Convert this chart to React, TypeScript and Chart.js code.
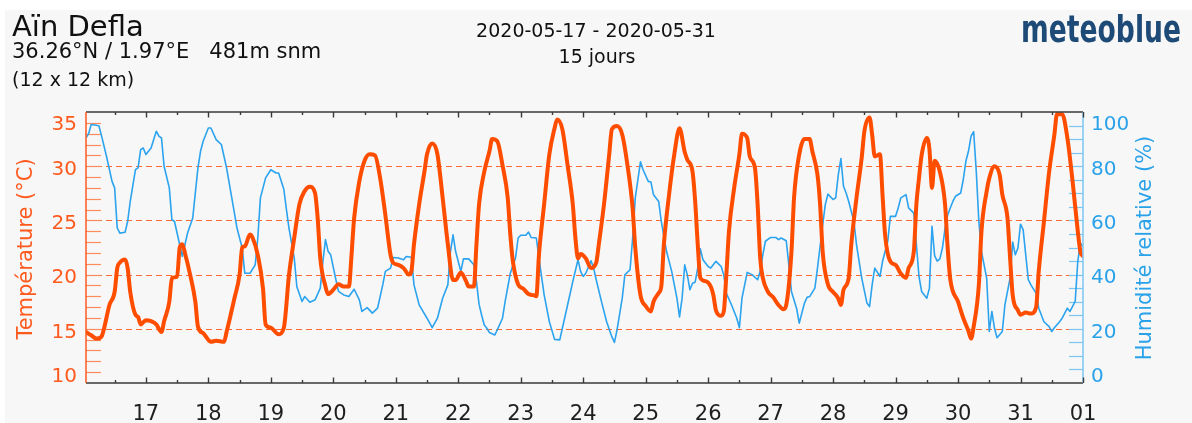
import React, { useEffect, useRef } from 'react';
import { Chart, registerables } from 'chart.js';

Chart.register(...registerables);

// ---- data (hours since 2020-05-16 00:00) ----
const tempHours = [1, 3, 5, 7, 8, 10, 12, 13, 14, 16, 17, 18, 20, 21, 22, 24, 26, 28, 30, 31, 33, 34, 36, 37, 38, 39, 41, 43, 44, 46, 49, 51, 54, 55, 58, 60, 61, 62, 64, 65, 67, 69, 70, 72, 75, 77, 79, 81, 83, 85, 87, 89, 90, 91, 93, 94, 96, 98, 100, 102, 103, 104, 106, 108, 110, 112, 114, 116, 118, 119, 121, 123, 125, 126, 127, 129, 131, 132, 134, 136, 138, 140, 142, 143, 145, 147, 148, 150, 151, 152, 154, 156, 157, 159, 161, 163, 164, 165, 167, 169, 171, 173, 174, 175, 177, 179, 181, 182, 184, 186, 188, 189, 190, 191, 193, 195, 197, 198, 200, 202, 203, 205, 207, 209, 211, 212, 214, 216, 218, 219, 221, 222, 223, 225, 227, 229, 231, 232, 234, 235, 236, 237, 239, 241, 242, 243, 245, 246, 247, 248, 250, 252, 253, 255, 256, 258, 259, 260, 261, 263, 265, 267, 269, 270, 272, 273, 275, 277, 279, 280, 282, 283, 284, 286, 288, 290, 291, 292, 294, 295, 297, 299, 300, 302, 303, 304, 306, 307, 308, 310, 312, 314, 316, 317, 319, 320, 321, 322, 324, 325, 326, 327, 329, 331, 332, 333, 336, 338, 340, 341, 342, 344, 345, 347, 348, 350, 352, 353, 355, 356, 357, 359, 360, 362, 364, 366, 367, 369, 371, 373, 374, 376, 378, 380, 382, 383, 384];
const tempValues = [14.7, 14.4, 14.1, 14.3, 15.1, 17.2, 18.4, 20.6, 21.1, 21.4, 20.6, 18.4, 16.3, 16.1, 15.4, 15.8, 15.7, 15.4, 14.7, 15.7, 17.5, 19.7, 19.8, 22.5, 22.8, 22.0, 20.0, 17.5, 15.2, 14.6, 13.8, 13.9, 13.8, 14.7, 17.8, 20.0, 22.5, 22.6, 23.7, 23.4, 21.8, 18.7, 15.4, 15.1, 14.5, 15.1, 20.0, 23.4, 26.5, 27.7, 28.1, 27.5, 25.2, 21.5, 18.9, 18.2, 18.6, 19.1, 18.9, 18.9, 21.8, 25.2, 28.6, 30.5, 31.1, 31.0, 28.9, 25.5, 21.8, 21.1, 20.9, 20.6, 20.0, 20.3, 22.8, 26.5, 29.5, 31.1, 32.1, 31.1, 27.1, 22.8, 19.5, 19.5, 20.2, 19.4, 18.9, 18.9, 22.8, 26.5, 29.5, 31.4, 32.5, 32.3, 30.1, 27.1, 23.7, 21.2, 19.1, 18.7, 18.2, 18.1, 18.0, 21.8, 26.5, 31.1, 33.5, 34.3, 33.4, 30.1, 26.5, 23.4, 21.5, 21.9, 21.5, 20.6, 21.1, 22.8, 26.5, 31.1, 33.4, 33.7, 32.9, 30.1, 26.1, 22.5, 18.1, 17.1, 16.6, 17.5, 18.3, 18.9, 22.8, 27.4, 31.1, 33.5, 31.3, 30.6, 29.5, 26.8, 22.8, 19.7, 19.4, 18.9, 18.1, 16.7, 16.2, 16.6, 20.0, 24.0, 28.0, 31.1, 33.0, 32.6, 30.9, 29.8, 26.5, 21.5, 19.7, 18.4, 17.9, 17.2, 16.8, 17.2, 22.1, 27.1, 31.1, 32.5, 32.5, 31.4, 29.2, 26.5, 22.1, 19.1, 18.4, 17.8, 17.2, 18.6, 19.7, 22.8, 27.1, 30.8, 33.2, 34.5, 32.9, 30.9, 31.1, 27.3, 23.6, 21.2, 20.9, 20.1, 19.7, 20.6, 22.1, 26.5, 28.9, 31.0, 32.6, 31.6, 28.0, 30.5, 29.5, 26.5, 22.5, 19.6, 17.5, 16.0, 14.8, 14.1, 15.2, 19.1, 24.0, 27.7, 28.9, 30.0, 29.2, 27.4, 25.2, 21.5, 18.1, 16.7, 16.3, 16.5, 16.4, 17.0, 20.3, 24.9, 29.5, 32.9, 34.8, 34.8, 32.6, 28.6, 24.0, 22.1, 21.7];

const humHours = [1, 2, 3, 5, 6, 7, 9, 11, 12, 13, 14, 16, 17, 18, 20, 21, 22, 23, 24, 26, 28, 29, 30, 31, 33, 34, 35, 37, 38, 39, 40, 42, 44, 45, 46, 48, 49, 51, 53, 55, 57, 59, 61, 62, 64, 66, 67, 68, 70, 72, 74, 75, 77, 78, 79, 81, 82, 84, 85, 87, 89, 91, 92, 93, 94, 95, 97, 98, 100, 102, 104, 106, 107, 109, 111, 113, 115, 116, 118, 119, 121, 123, 124, 126, 127, 129, 132, 134, 136, 138, 140, 141, 142, 143, 145, 146, 148, 150, 151, 152, 153, 154, 155, 156, 158, 159, 161, 162, 164, 166, 167, 168, 170, 171, 172, 174, 175, 177, 179, 181, 183, 184, 186, 188, 190, 191, 192, 193, 195, 196, 197, 199, 201, 203, 204, 205, 207, 208, 210, 211, 212, 214, 215, 217, 218, 219, 221, 222, 224, 226, 228, 229, 230, 231, 232, 233, 234, 235, 236, 237, 238, 240, 241, 243, 245, 246, 247, 249, 251, 252, 253, 255, 257, 259, 260, 261, 262, 264, 266, 267, 268, 270, 271, 272, 274, 275, 277, 278, 279, 281, 282, 284, 285, 286, 288, 289, 290, 291, 292, 293, 294, 296, 297, 299, 301, 302, 303, 304, 306, 307, 309, 310, 312, 313, 314, 316, 317, 319, 320, 321, 322, 324, 325, 326, 327, 328, 329, 330, 331, 332, 333, 334, 335, 337, 338, 339, 340, 341, 342, 343, 344, 345, 347, 348, 349, 350, 351, 353, 354, 356, 357, 358, 359, 360, 361, 362, 363, 364, 366, 367, 369, 371, 372, 373, 375, 376, 378, 379, 381, 382, 383, 384];
const humValues = [90.5, 92.0, 95.4, 95.1, 94.8, 91.1, 83.1, 74.4, 72.0, 57.2, 55.3, 55.6, 59.6, 67.0, 78.7, 79.4, 86.1, 86.7, 84.3, 86.7, 92.9, 91.1, 90.4, 80.0, 72.0, 60.3, 59.6, 51.0, 46.7, 51.0, 55.3, 60.9, 79.4, 85.5, 89.2, 94.1, 94.1, 89.8, 88.0, 79.4, 68.3, 57.2, 49.8, 40.5, 40.5, 43.6, 53.5, 68.3, 75.7, 78.7, 77.5, 77.5, 71.5, 64.0, 57.0, 46.1, 35.5, 30.1, 31.9, 29.8, 30.7, 35.0, 44.9, 52.9, 48.6, 47.3, 38.1, 33.8, 32.5, 31.9, 34.6, 30.7, 26.4, 27.8, 25.8, 27.6, 36.2, 41.2, 42.4, 46.3, 46.1, 45.5, 46.7, 46.4, 36.2, 28.8, 23.9, 20.4, 23.9, 31.3, 36.2, 48.5, 54.7, 48.5, 41.2, 45.8, 45.8, 43.6, 37.4, 29.0, 25.0, 21.4, 20.2, 18.6, 17.7, 19.6, 23.9, 30.0, 40.5, 46.1, 53.5, 54.5, 54.5, 55.7, 53.7, 53.5, 46.1, 32.5, 22.6, 16.1, 15.9, 20.2, 28.8, 37.4, 45.5, 41.2, 39.3, 40.5, 45.1, 42.4, 38.1, 30.1, 22.6, 17.1, 15.0, 19.6, 31.3, 39.9, 41.8, 53.5, 68.3, 81.6, 78.7, 74.4, 74.2, 69.5, 67.0, 59.6, 48.6, 41.2, 31.3, 24.4, 31.3, 43.6, 39.9, 34.4, 36.8, 37.2, 42.4, 49.5, 45.5, 43.0, 42.4, 44.9, 43.0, 39.9, 33.1, 28.8, 23.9, 20.4, 31.3, 40.8, 39.9, 38.1, 41.2, 47.3, 52.3, 53.7, 53.7, 52.9, 53.5, 52.5, 43.6, 33.8, 27.4, 22.1, 29.5, 31.6, 31.9, 35.0, 42.4, 58.4, 65.8, 69.7, 67.7, 68.3, 76.9, 82.8, 72.6, 70.1, 67.0, 59.6, 51.0, 38.7, 29.5, 28.2, 36.2, 42.4, 39.3, 44.9, 52.3, 61.5, 61.5, 64.6, 68.3, 69.5, 64.6, 62.7, 51.0, 39.3, 33.8, 31.3, 35.0, 57.8, 47.0, 45.0, 45.8, 49.8, 57.0, 62.0, 64.6, 67.0, 68.9, 70.1, 75.0, 81.8, 85.5, 91.1, 92.7, 78.1, 59.6, 48.5, 38.7, 19.0, 26.4, 20.2, 16.7, 19.0, 28.8, 38.7, 52.0, 47.3, 49.8, 58.6, 56.6, 47.3, 38.1, 36.2, 33.1, 27.6, 22.6, 20.8, 19.0, 20.4, 22.6, 23.9, 27.6, 26.4, 30.1, 44.9, 51.6, 50.4];

// ---- axes ----
const dayTickHours = [24, 48, 72, 96, 120, 144, 168, 192, 216, 240, 264, 288, 312, 336, 360, 384];
const dayLabels = ['17', '18', '19', '20', '21', '22', '23', '24', '25', '26', '27', '28', '29', '30', '31', '01'];
const halfDayTickHours = [12, 36, 60, 84, 108, 132, 156, 180, 204, 228, 252, 276, 300, 324, 348, 372];
const tempTicks = [10, 15, 20, 25, 30, 35];
const tempGridValues = [15, 20, 25, 30];
const tempMinorTicks = [11, 12, 13, 14, 15, 16, 17, 18, 19, 20, 21, 22, 23, 24, 25, 26, 27, 28, 29, 30, 31, 32, 33, 34];
const humTicks = [0, 20, 40, 60, 80, 100];
const humMinorTicks = [5, 10, 15, 20, 25, 30, 35, 40, 45, 50, 55, 60, 65, 70, 75, 80, 85, 90, 95];

const W = 1192;
const H = 423;
const FONT = '"DejaVu Sans", "Noto Sans", sans-serif';
const ORANGE_LINE = '#ff4d00';
const ORANGE_TXT = '#ff5a1e';
const ORANGE_GRID = '#ff6a33';
const ORANGE_TICK = '#ff8a5c';
const BLUE_LINE = '#2ba3ee';
const BLUE_TXT = '#2aa2ea';
const BLUE_TICK = '#7cc6f2';
const FRAME = '#3a3a3a';

function drawText(
  ctx: CanvasRenderingContext2D,
  s: string,
  x: number,
  y: number,
  size: number,
  color: string,
  align: CanvasTextAlign = 'left',
  opts: { bold?: boolean; sx?: number; rot?: number; baseline?: CanvasTextBaseline } = {}
) {
  ctx.save();
  ctx.font = `${opts.bold ? 'bold ' : ''}${size}px ${FONT}`;
  ctx.fillStyle = color;
  ctx.textAlign = align;
  ctx.textBaseline = opts.baseline || 'alphabetic';
  ctx.translate(x, y);
  if (opts.rot) ctx.rotate(opts.rot);
  if (opts.sx) ctx.scale(opts.sx, 1);
  ctx.fillText(s, 0, 0);
  ctx.restore();
}

const decorPlugin = {
  id: 'decor',
  beforeDraw(chart: any) {
    const ctx: CanvasRenderingContext2D = chart.ctx;
    const { left, right } = chart.chartArea;
    const yT = chart.scales.yT;
    const yH = chart.scales.yH;
    ctx.save();
    ctx.fillStyle = '#ffffff';
    ctx.fillRect(0, 0, W, H);
    ctx.fillStyle = '#f7f7f7';
    ctx.fillRect(5, 10, W - 5, H - 10);

    // dashed grid lines
    ctx.strokeStyle = ORANGE_GRID;
    ctx.lineWidth = 1.2;
    ctx.setLineDash([6, 4]);
    tempGridValues.forEach((v) => {
      const y = Math.round(yT.getPixelForValue(v)) + 0.5;
      ctx.beginPath();
      ctx.moveTo(left, y);
      ctx.lineTo(right, y);
      ctx.stroke();
    });
    ctx.setLineDash([]);

    // left minor ticks
    ctx.strokeStyle = ORANGE_TICK;
    ctx.lineWidth = 1.2;
    tempMinorTicks.forEach((v) => {
      const y = Math.round(yT.getPixelForValue(v)) + 0.5;
      ctx.beginPath();
      ctx.moveTo(left, y);
      ctx.lineTo(left + 15, y);
      ctx.stroke();
    });
    // right minor ticks
    ctx.strokeStyle = BLUE_TICK;
    humMinorTicks.forEach((v) => {
      const y = Math.round(yH.getPixelForValue(v)) + 0.5;
      ctx.beginPath();
      ctx.moveTo(right - 14, y);
      ctx.lineTo(right, y);
      ctx.stroke();
    });
    ctx.restore();
  },
  afterDatasetsDraw(chart: any) {
    const ctx: CanvasRenderingContext2D = chart.ctx;
    const { left, right, top, bottom } = chart.chartArea;
    const xs = chart.scales.x;
    ctx.save();
    ctx.lineWidth = 1.5;
    ctx.strokeStyle = FRAME;
    ctx.beginPath();
    ctx.moveTo(left, top);
    ctx.lineTo(right, top);
    ctx.moveTo(left, bottom);
    ctx.lineTo(right, bottom);
    ctx.stroke();
    ctx.strokeStyle = ORANGE_TXT;
    ctx.beginPath();
    ctx.moveTo(left, top);
    ctx.lineTo(left, bottom);
    ctx.stroke();
    ctx.strokeStyle = BLUE_TICK;
    ctx.beginPath();
    ctx.moveTo(right, top);
    ctx.lineTo(right, bottom);
    ctx.stroke();
    ctx.strokeStyle = FRAME;
    ctx.lineWidth = 1.4;
    const tick = (h: number, len: number) => {
      const x = Math.round(xs.getPixelForValue(h)) + 0.5;
      ctx.beginPath();
      ctx.moveTo(x, bottom);
      ctx.lineTo(x, bottom - len);
      ctx.moveTo(x, top);
      ctx.lineTo(x, top + len);
      ctx.stroke();
    };
    dayTickHours.forEach((h) => tick(h, 5.5));
    halfDayTickHours.forEach((h) => tick(h, 3));
    ctx.restore();
  },
  afterDraw(chart: any) {
    const ctx: CanvasRenderingContext2D = chart.ctx;
    const { top, bottom } = chart.chartArea;
    const xs = chart.scales.x;
    const yT = chart.scales.yT;
    const yH = chart.scales.yH;
    const clamp = (v: number) => Math.min(Math.max(v, top + 10.5), bottom - 8);

    tempTicks.forEach((v) => {
      const c = clamp(yT.getPixelForValue(v) + 1.5);
      drawText(ctx, String(v), 77, c + 7.3, 20, ORANGE_TXT, 'right');
    });
    humTicks.forEach((v) => {
      const c = clamp(yH.getPixelForValue(v) + 1.5);
      drawText(ctx, String(v), 1091, c + 7.3, 20, BLUE_TXT, 'left');
    });
    dayTickHours.forEach((h, i) => {
      drawText(ctx, dayLabels[i], xs.getPixelForValue(h), 420, 21, '#1e1e1e', 'center');
    });

    drawText(ctx, 'Température (°C)', 27, 249, 21, ORANGE_TXT, 'center', { rot: -Math.PI / 2, baseline: 'middle' });
    drawText(ctx, 'Humidité relative (%)', 1146, 248, 21, BLUE_TXT, 'center', { rot: -Math.PI / 2, baseline: 'middle' });

    drawText(ctx, 'Aïn Defla', 12, 36, 29, '#111111');
    drawText(ctx, '36.26°N / 1.97°E   481m snm', 12, 58, 21, '#111111');
    drawText(ctx, '(12 x 12 km)', 12, 86, 19, '#111111');
    drawText(ctx, '2020-05-17 - 2020-05-31', 596, 37, 19, '#111111', 'center');
    drawText(ctx, '15 jours', 597, 63, 19, '#111111', 'center');
    drawText(ctx, 'meteoblue', 1181, 42, 38, '#1d4a76', 'right', { bold: true, sx: 0.7 });
  },
};

export default function App() {
  const canvasRef = useRef<HTMLCanvasElement | null>(null);

  useEffect(() => {
    if (!canvasRef.current) return;
    const chart = new Chart(canvasRef.current, {
      type: 'line',
      data: {
        datasets: [
          {
            label: 'Température (°C)',
            data: tempHours.map((h, i) => ({ x: h, y: tempValues[i] })),
            yAxisID: 'yT',
            borderColor: ORANGE_LINE,
            borderWidth: 4,
            pointRadius: 0,
            cubicInterpolationMode: 'monotone',
            borderJoinStyle: 'round',
            borderCapStyle: 'round',
          },
          {
            label: 'Humidité relative (%)',
            data: humHours.map((h, i) => ({ x: h, y: humValues[i] })),
            yAxisID: 'yH',
            borderColor: BLUE_LINE,
            borderWidth: 1.6,
            pointRadius: 0,
            tension: 0,
            borderJoinStyle: 'round',
          },
        ],
      },
      options: {
        animation: false,
        responsive: false,
        devicePixelRatio: 1,
        layout: { padding: { left: 86, right: 109, top: 112, bottom: 40 } },
        plugins: { legend: { display: false }, tooltip: { enabled: false } },
        events: [],
        scales: {
          x: { type: 'linear', min: 1, max: 384, display: false },
          yT: { type: 'linear', min: 10, max: 35, display: false, position: 'left' },
          yH: { type: 'linear', min: 0, max: 100, display: false, position: 'right' },
        },
      },
      plugins: [decorPlugin],
    } as any);
    return () => chart.destroy();
  }, []);

  return (
    <div style={{ position: 'absolute', left: 0, top: 0, width: W, height: H, background: '#ffffff' }}>
      <canvas ref={canvasRef} width={W} height={H} style={{ width: W, height: H, display: 'block' }} />
    </div>
  );
}
